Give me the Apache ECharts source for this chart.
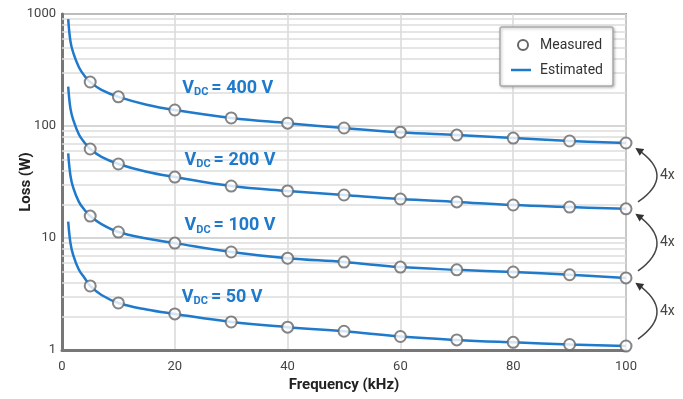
<!DOCTYPE html>
<html><head><meta charset="utf-8">
<script src="https://cdn.jsdelivr.net/npm/echarts@6/dist/echarts.min.js"></script>
<style>html,body{margin:0;padding:0;background:#fff}#c{width:683px;height:399px}</style>
</head><body><div id="c"></div>
<script>
var FONT = 'Roboto,"Liberation Sans",sans-serif';
// Measured points (kHz)
var measFreq = [5,10,20,30,40,50,60,70,80,90,100];
var meas400 = [247,182,139,118,106,96,88,83,78,73.5,70.5];
var meas200 = [62.3,45.8,35,29.1,26.3,24.2,22.3,21,19.7,18.9,18.2];
var meas100 = [15.7,11.3,9.0,7.5,6.6,6.1,5.5,5.2,4.97,4.7,4.4];
var meas50  = [3.73,2.63,2.1,1.78,1.6,1.47,1.32,1.23,1.17,1.12,1.085];
// Estimated curves
var estFreq = [1.1,1.5,2,3,4,5,7,10,15,20,30,40,50,60,70,80,90,100];
var est400 = [900,570,450,335,280,247,210,182,155,139,118,106,96,88,83,78,73.5,70.5];
var est200 = [225,143,113,84,71,62.3,53,45.8,39,35,29.1,26.3,24.2,22.3,21,19.7,18.9,18.2];
var est100 = [57,36,28,21,17.8,15.7,13.3,11.3,9.9,9.0,7.5,6.6,6.1,5.5,5.2,4.97,4.7,4.4];
var est50  = [14,9,7,5.2,4.4,3.73,3.1,2.63,2.3,2.1,1.78,1.6,1.47,1.32,1.23,1.17,1.12,1.085];
var seriesLabels = ['400','200','100','50'];
var labelPos = [[29.4,218],[29.8,49.7],[29.8,12.8],[28.4,2.97]];
var legendNames = ['Measured','Estimated'];
var xTicks = [0,20,40,60,80,100];
var minorGrid = [2,3,4,5,6,7,8,9,20,30,40,50,60,70,80,90,200,300,400,500,600,700,800,900];

var BLUE = '#1f7acb';
function zip(xs, ys){ return xs.map(function(x,i){return [x, ys[i]];}); }
var ests = [est400, est200, est100, est50];
var meass = [meas400, meas200, meas100, meas50];

var series = [];
series.push({
  type:'line', data:[], silent:true, z:1,
  markLine:{silent:true, z:1, symbol:'none', label:{show:false},
    lineStyle:{color:'#dcdcdc', width:1.5, type:'solid'},
    data: minorGrid.map(function(v){return {yAxis:v};})}
});
ests.forEach(function(arr, i){
  series.push({
    name:'Estimated', type:'line', data: zip(estFreq, arr), smooth:0.4, symbol:'none',
    lineStyle:{color:BLUE, width:2.5}, itemStyle:{color:BLUE}, z:3,
    markPoint:{symbol:'circle', symbolSize:0, silent:true, z:4,
      data:[{coord: labelPos[i]}],
      label:{show:true, position:'inside',
        formatter: '{v|V}{s|DC}{v|= ' + seriesLabels[i] + ' V}',
        rich:{
          v:{fontFamily:FONT, fontWeight:'bold', fontSize:18, color:BLUE},
          s:{fontFamily:FONT, fontWeight:'bold', fontSize:11, color:BLUE, padding:[9,3,0,0]}
        }}}
  });
});
meass.forEach(function(arr){
  series.push({
    name:'Measured', type:'scatter', data: zip(measFreq, arr), symbol:'circle', symbolSize:11,
    itemStyle:{color:'#fff', borderColor:'#666', borderWidth:2}, z:5
  });
});

var chart = echarts.init(document.getElementById('c'));
chart.setOption({
  animation:false,
  grid:{left:62, right:57, top:14, bottom:49, show:true, borderColor:'#999', borderWidth:2,
    backgroundColor:'transparent', containLabel:false, outerBoundsMode:'none'},
  xAxis:{type:'value', min:0, max:100, interval:20,
    name:'Frequency (kHz)', nameLocation:'middle', nameGap:28, nameMoveOverlap:false,
    nameTextStyle:{fontFamily:FONT, fontWeight:'bold', fontSize:15, color:'#222'},
    axisLine:{show:true, lineStyle:{color:'#777', width:3}},
    axisTick:{show:false},
    axisLabel:{fontFamily:FONT, fontSize:13, color:'#444', margin:10,
      formatter:function(v){return xTicks.indexOf(v)>=0 ? String(v) : '';}},
    splitLine:{show:true, lineStyle:{color:'#d8d8d8', width:1.5}}},
  yAxis:{type:'log', logBase:10, min:1, max:1000,
    name:'Loss (W)', nameLocation:'middle', nameGap:28, nameRotate:90, nameMoveOverlap:false,
    nameTextStyle:{fontFamily:FONT, fontWeight:'bold', fontSize:15, color:'#222'},
    axisLine:{show:true, lineStyle:{color:'#777', width:3}},
    axisTick:{show:false},
    axisLabel:{fontFamily:FONT, fontSize:13, color:'#444', margin:6,
      formatter:function(v){return String(Math.round(v));}},
    splitLine:{show:true, lineStyle:{color:'#c8c8c8', width:1.5}}},
  series: series
});

var ends = ests.map(function(a){return a[a.length-1];});
var g = [];
for (var i=0;i<3;i++){
  var up = chart.convertToPixel({gridIndex:0},[100, ends[i]]);
  var lo = chart.convertToPixel({gridIndex:0},[100, ends[i+1]]);
  var sx = lo[0]+12, sy = lo[1]-7, ex = up[0]+11, ey = up[1]+6;
  var my = (sy+ey)/2, cpx = 2*(up[0]+31) - (sx+ex)/2;
  g.push({type:'bezierCurve', silent:true,
    shape:{x1:sx,y1:sy,x2:ex,y2:ey,cpx1:cpx,cpy1:my},
    style:{stroke:'#444', lineWidth:1.5, fill:null}});
  var dx = ex-cpx, dy = ey-my, L = Math.sqrt(dx*dx+dy*dy); dx/=L; dy/=L;
  var px = -dy, py = dx, al = 8, aw = 4;
  var tx = ex+dx*2, ty = ey+dy*2;
  g.push({type:'polygon', silent:true,
    shape:{points:[[tx,ty],[tx-dx*al+px*aw, ty-dy*al+py*aw],[tx-dx*al-px*aw, ty-dy*al-py*aw]]},
    style:{fill:'#333'}});
  g.push({type:'text', silent:true, x: up[0]+34, y: my,
    style:{text:'4x', font:'14px '+FONT, fill:'#444', verticalAlign:'middle'}});
}
// legend box
g.push({type:'rect', silent:true, z:20, shape:{x:500, y:27, width:113, height:59, r:2},
  style:{fill:'#fff', stroke:'#aaa', lineWidth:1.5, shadowColor:'rgba(0,0,0,0.25)', shadowBlur:3, shadowOffsetX:1, shadowOffsetY:1}});
g.push({type:'circle', silent:true, z:21, shape:{cx:523, cy:45, r:5},
  style:{fill:'#fff', stroke:'#666', lineWidth:2}});
g.push({type:'line', silent:true, z:21, shape:{x1:511, y1:70, x2:531, y2:70},
  style:{stroke:BLUE, lineWidth:2.5}});
g.push({type:'text', silent:true, z:21, x:540, y:45,
  style:{text:legendNames[0], font:'14px '+FONT, fill:'#333', verticalAlign:'middle'}});
g.push({type:'text', silent:true, z:21, x:540, y:70,
  style:{text:legendNames[1], font:'14px '+FONT, fill:'#333', verticalAlign:'middle'}});
chart.setOption({graphic:g});
</script></body></html>
